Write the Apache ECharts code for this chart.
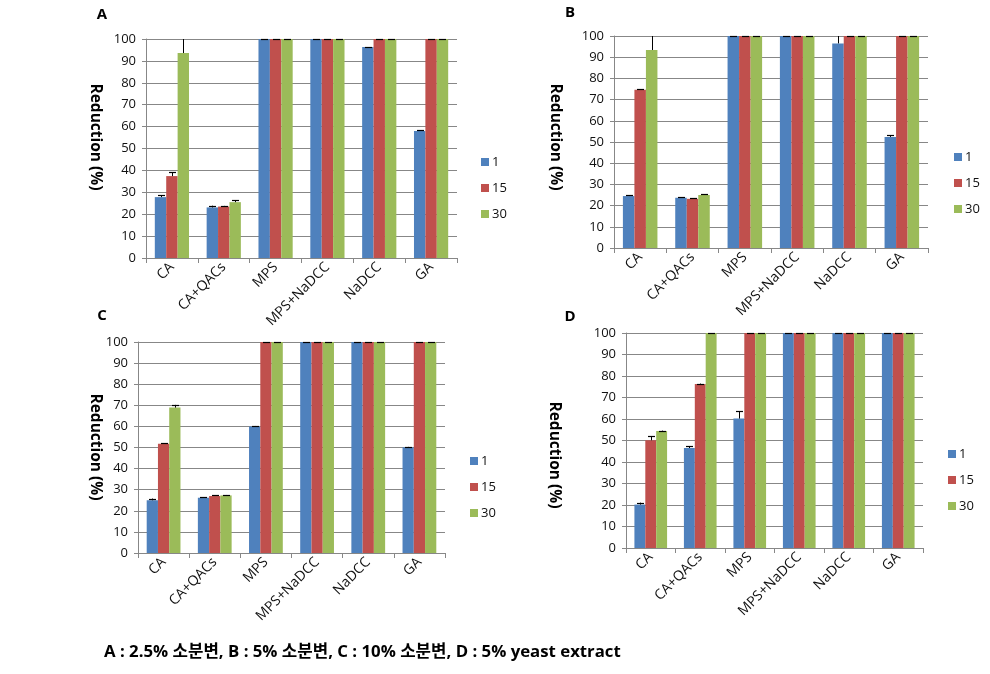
<!DOCTYPE html>
<html>
<head>
<meta charset="utf-8">
<script src="https://cdn.jsdelivr.net/npm/echarts@6/dist/echarts.min.js"></script>
<style>
html,body{margin:0;padding:0;background:#fff;}
#chart{width:990px;height:674px;}
</style>
</head>
<body>
<div id="chart"></div>
<script>
// ---- data ----
const categories = ['CA', 'CA+QACs', 'MPS', 'MPS+NaDCC', 'NaDCC', 'GA'];
const seriesNames = ['1', '15', '30'];
const yTickMax = 100;
const yTickStep = 10;

// Panel A : 2.5% 소분변
const A_1   = [27.8, 23.1, 100, 100, 96.3, 58.0];
const A_15  = [37.4, 23.5, 100, 100, 100, 100];
const A_30  = [93.6, 25.5, 100, 100, 100, 100];
const A_1e  = [0.9, 0.8, 0, 0, 0, 0.3];
const A_15e = [1.7, 0.3, 0, 0, 0, 0];
const A_30e = [8.0, 0.8, 0, 0, 0, 0];

// Panel B : 5% 소분변
const B_1   = [24.5, 23.7, 100, 100, 96.5, 52.4];
const B_15  = [74.6, 23.2, 100, 100, 100, 100];
const B_30  = [93.4, 25.0, 100, 100, 100, 100];
const B_1e  = [0.3, 0.2, 0, 0, 5.0, 0.8];
const B_15e = [0.3, 0.2, 0, 0, 0, 0];
const B_30e = [8.0, 0.3, 0, 0, 0, 0];

// Panel C : 10% 소분변
const C_1   = [25.0, 26.2, 60.0, 100, 100, 50.1];
const C_15  = [51.8, 27.0, 100, 100, 100, 100];
const C_30  = [68.9, 27.3, 100, 100, 100, 100];
const C_1e  = [0.8, 0.2, 0.2, 0, 0, 0.2];
const C_15e = [0.3, 0.3, 0, 0, 0, 0];
const C_30e = [1.3, 0.2, 0, 0, 0, 0];

// Panel D : 5% yeast extract
const D_1   = [20.2, 46.5, 60.2, 100, 100, 100];
const D_15  = [50.1, 76.3, 100, 100, 100, 100];
const D_30  = [54.4, 100, 100, 100, 100, 100];
const D_1e  = [0.9, 0.9, 3.4, 0, 0, 0];
const D_15e = [2.0, 0.2, 0, 0, 0, 0];
const D_30e = [0.2, 0, 0, 0, 0, 0];

const panelLetters = ['A', 'B', 'C', 'D'];
const captionText = 'A : 2.5% 소분변, B : 5% 소분변, C : 10% 소분변, D : 5% yeast extract';
const yAxisTitle = 'Reduction (%)';

// ---- layout/style ----
const colors = ['#4F81BD', '#C0504D', '#9BBB59'];
const gridColor = '#878787';
const FONT = "'Open Sans', 'Noto Sans CJK KR', sans-serif";
const GAP = 0.34;

const panels = [
  {vals: [A_1, A_15, A_30], errs: [A_1e, A_15e, A_30e],
   grid: {left: 146, top: 39, width: 311, height: 219},
   legend: {left: 476, top: 150}, title: [102, 15], ylab: [95, 137]},
  {vals: [B_1, B_15, B_30], errs: [B_1e, B_15e, B_30e],
   grid: {left: 614, top: 36, width: 314, height: 212},
   legend: {left: 949, top: 145}, title: [570, 13], ylab: [555, 137]},
  {vals: [C_1, C_15, C_30], errs: [C_1e, C_15e, C_30e],
   grid: {left: 138, top: 342, width: 307, height: 211},
   legend: {left: 465, top: 449}, title: [102, 316], ylab: [95, 447]},
  {vals: [D_1, D_15, D_30], errs: [D_1e, D_15e, D_30e],
   grid: {left: 626, top: 333, width: 297, height: 215},
   legend: {left: 943, top: 442}, title: [570, 317], ylab: [554, 455]}
];

const grids = [], xAxes = [], yAxes = [], series = [], legends = [], graphics = [];

panels.forEach((p, pi) => {
  grids.push(Object.assign({containLabel: false}, p.grid));
  xAxes.push({
    type: 'category', gridIndex: pi, data: categories,
    axisLine: {show: true, lineStyle: {color: gridColor, width: 1}},
    axisTick: {show: true, length: 5, alignWithLabel: false, lineStyle: {color: gridColor}},
    axisLabel: {rotate: 45, interval: 0, fontSize: 14, color: '#111', fontFamily: FONT, margin: 7}
  });
  yAxes.push({
    type: 'value', gridIndex: pi, min: 0, max: yTickMax, interval: yTickStep,
    axisLine: {show: true, lineStyle: {color: gridColor, width: 1}},
    axisTick: {show: true, length: 4, lineStyle: {color: gridColor}},
    splitLine: {show: true, lineStyle: {color: gridColor, width: 1}},
    axisLabel: {fontSize: 13, color: '#111', fontFamily: FONT, margin: 10}
  });
  seriesNames.forEach((nm, si) => {
    series.push({
      type: 'bar', name: nm, xAxisIndex: pi, yAxisIndex: pi,
      data: p.vals[si], itemStyle: {color: colors[si]},
      barGap: '0%', barCategoryGap: (GAP * 100) + '%',
      silent: true
    });
  });
  const errData = [];
  seriesNames.forEach((nm, si) => {
    p.vals[si].forEach((v, ci) => errData.push([ci, v, p.errs[si][ci], si]));
  });
  series.push({
    type: 'custom', xAxisIndex: pi, yAxisIndex: pi, data: errData, z: 5, silent: true,
    renderItem: function (params, api) {
      const ci = api.value(0), v = api.value(1), e = api.value(2), si = api.value(3);
      const band = api.size([1, 0])[0];
      const bw = band * (1 - GAP) / 3;
      const base = api.coord([ci, v]);
      const x = Math.round(base[0] + (si - 1) * bw) + 0.5;
      const topVal = Math.min(v + e, yTickMax);
      const top = api.coord([ci, topVal]);
      const children = [];
      if (e > 0) {
        children.push({type: 'line', shape: {x1: x, y1: base[1], x2: x, y2: top[1]},
          style: {stroke: '#000', lineWidth: 1}});
      }
      if (v + e <= yTickMax) {
        const yy = Math.round(top[1]) + 0.5;
        children.push({type: 'line', shape: {x1: x - 3.5, y1: yy, x2: x + 3.5, y2: yy},
          style: {stroke: '#000', lineWidth: 1.2}});
      }
      return {type: 'group', children: children};
    }
  });
  legends.push({
    orient: 'vertical', left: p.legend.left, top: p.legend.top,
    data: seriesNames, itemWidth: 8, itemHeight: 8, itemGap: 12, selectedMode: false,
    icon: 'rect',
    textStyle: {fontSize: 13, color: '#111', fontFamily: FONT, lineHeight: 14, padding: [0, 0, 0, -2]}
  });
  graphics.push({
    type: 'text', x: p.title[0], y: p.title[1],
    style: {text: panelLetters[pi], font: 'bold 15px ' + FONT, fill: '#000',
      textAlign: 'center', textVerticalAlign: 'middle', align: 'center', verticalAlign: 'middle'}
  });
  graphics.push({
    type: 'text', x: p.ylab[0], y: p.ylab[1], rotation: -Math.PI / 2,
    style: {text: yAxisTitle, font: 'bold 15.5px ' + FONT, fill: '#000',
      textAlign: 'center', textVerticalAlign: 'middle', align: 'center', verticalAlign: 'middle'}
  });
});

graphics.push({
  type: 'text', x: 104, y: 652,
  style: {text: captionText, font: 'bold 16.8px ' + FONT, fill: '#000',
    textAlign: 'left', textVerticalAlign: 'middle', align: 'left', verticalAlign: 'middle'}
});

const chart = echarts.init(document.getElementById('chart'), null, {renderer: 'canvas'});
chart.setOption({
  backgroundColor: '#fff',
  animation: false,
  textStyle: {fontFamily: FONT},
  grid: grids, xAxis: xAxes, yAxis: yAxes, series: series,
  legend: legends, graphic: graphics
});
</script>
</body>
</html>
